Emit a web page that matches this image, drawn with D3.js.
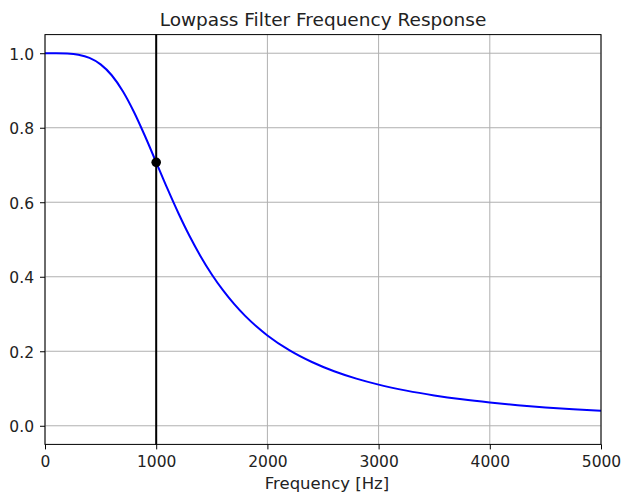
<!DOCTYPE html>
<html>
<head>
<meta charset="utf-8">
<script src="https://cdn.jsdelivr.net/npm/d3@7"></script>
<style>
  html, body { margin: 0; padding: 0; background: #fff; }
  svg { display: block; font-family: "DejaVu Sans", sans-serif; }
</style>
</head>
<body>
<svg id="chart" width="621" height="493"></svg>
<script>
// Magnitude response of the lowpass filter, sampled along frequency (Hz)
const freqs = [0, 100, 200, 300, 400, 500, 600, 700, 800, 900, 1000,
  1100, 1200, 1300, 1400, 1500, 1600, 1700, 1800, 1900, 2000,
  2200, 2400, 2600, 2800, 3000, 3250, 3500, 3750, 4000, 4250, 4500, 4750, 5000];
const gains = [1.0, 1.0, 0.9992, 0.996, 0.9875, 0.9701, 0.9409, 0.898, 0.8423, 0.7771, 0.7071,
  0.637, 0.5704, 0.5092, 0.4545, 0.4061, 0.3639, 0.327, 0.2949, 0.267, 0.2425,
  0.2023, 0.1711, 0.1463, 0.1265, 0.1104, 0.0943, 0.0814, 0.0709, 0.0624, 0.0553, 0.0493, 0.0443, 0.04];

// Cutoff frequency marker
const cutoffFreq = 1000;
const cutoffGain = 0.7071;

const xTicks = [0, 1000, 2000, 3000, 4000, 5000];
const yTicks = [0.0, 0.2, 0.4, 0.6, 0.8, 1.0];

const titleText = "Lowpass Filter Frequency Response";
const xLabelText = "Frequency [Hz]";

const margin = { left: 45, right: 20, top: 35, bottom: 49 };
const W = 621, H = 493;
const svg = d3.select("#chart");

const x = d3.scaleLinear().domain([0, 5000]).range([margin.left, W - margin.right]);
const y = d3.scaleLinear().domain([-0.05, 1.05]).range([H - margin.bottom + 0.4, margin.top - 0.4]);

const data = freqs.map((f, i) => ({ f, g: gains[i] }));

// Grid
const grid = svg.append("g").attr("stroke", "#b0b0b0").attr("stroke-width", 1);
grid.selectAll(".gx").data(xTicks).join("line")
  .attr("x1", d => x(d)).attr("x2", d => x(d))
  .attr("y1", y.range()[0]).attr("y2", y.range()[1]);
grid.selectAll(".gy").data(yTicks).join("line")
  .attr("x1", x.range()[0]).attr("x2", x.range()[1])
  .attr("y1", d => y(d)).attr("y2", d => y(d));

// Response curve
const clipId = "plotclip";
svg.append("clipPath").attr("id", clipId).append("rect")
  .attr("x", x.range()[0]).attr("y", y.range()[1])
  .attr("width", x.range()[1] - x.range()[0]).attr("height", y.range()[0] - y.range()[1]);

svg.append("path").datum(data)
  .attr("clip-path", `url(#${clipId})`)
  .attr("fill", "none").attr("stroke", "#0000ff").attr("stroke-width", 2)
  .attr("d", d3.line().x(d => x(d.f)).y(d => y(d.g)).curve(d3.curveMonotoneX));

// Cutoff vertical line and point
svg.append("line")
  .attr("x1", x(cutoffFreq)).attr("x2", x(cutoffFreq))
  .attr("y1", y.range()[0]).attr("y2", y.range()[1])
  .attr("stroke", "#000").attr("stroke-width", 2);
svg.append("circle")
  .attr("cx", x(cutoffFreq)).attr("cy", y(cutoffGain)).attr("r", 4.8)
  .attr("fill", "#000");

// Axes
const xAxis = d3.axisBottom(x).tickValues(xTicks).tickFormat(d3.format("d")).tickSizeOuter(0).tickSize(5).tickPadding(6.5);
const yAxis = d3.axisLeft(y).tickValues(yTicks).tickFormat(d3.format(".1f")).tickSizeOuter(0).tickSize(5).tickPadding(6);

const gx = svg.append("g").attr("transform", `translate(0,${y.range()[0]})`).call(xAxis);
const gy = svg.append("g").attr("transform", `translate(${x.range()[0]},0)`).call(yAxis);
[gx, gy].forEach(g => {
  g.select(".domain").remove();
  g.selectAll("text").attr("font-size", 15.5).attr("fill", "#222").attr("font-family", "DejaVu Sans, sans-serif");
  g.selectAll(".tick line").attr("stroke", "#000").attr("stroke-width", 1);
});
gy.selectAll("text").attr("dy", "0.4em");

// Frame
svg.append("rect")
  .attr("x", x.range()[0]).attr("y", y.range()[1])
  .attr("width", x.range()[1] - x.range()[0]).attr("height", y.range()[0] - y.range()[1])
  .attr("fill", "none").attr("stroke", "#000").attr("stroke-width", 1);

// Title and label
svg.append("text").attr("x", (x.range()[0] + x.range()[1]) / 2).attr("y", 26)
  .attr("text-anchor", "middle").attr("font-size", 18.5).attr("fill", "#222").text(titleText);
svg.append("text").attr("x", (x.range()[0] + x.range()[1]) / 2 + 4).attr("y", 489)
  .attr("text-anchor", "middle").attr("font-size", 16.5).attr("fill", "#222").text(xLabelText);
</script>
</body>
</html>
